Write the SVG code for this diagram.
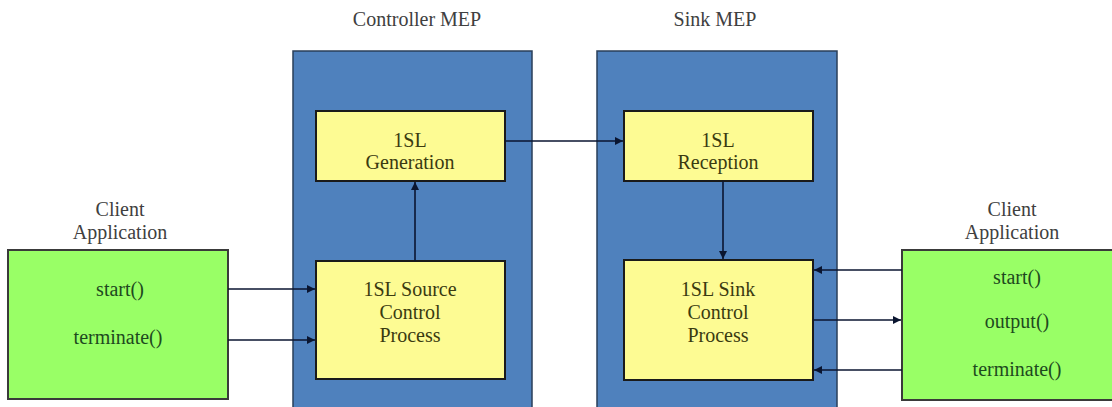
<svg xmlns="http://www.w3.org/2000/svg" width="1112" height="407" viewBox="0 0 1112 407">
<style>
text{font-family:"Liberation Serif","Times New Roman",serif;font-size:20px;text-anchor:middle}
.title{fill:#404040}
.mep{fill:#4f81bd;stroke:#2a3f5a;stroke-width:1.5}
.box{fill:#fdfb93;stroke:#1a1a1a;stroke-width:2}
.client{fill:#99ff66;stroke:#3a3a3a;stroke-width:2}
.yt{fill:#3a3a10}
.gt{fill:#1e4a1e}
.conn{stroke:#0a1530;stroke-width:1.6;fill:none;marker-end:url(#ah)}
</style>
<defs>
<marker id="ah" viewBox="0 0 10 10" refX="10" refY="5" markerWidth="8" markerHeight="8" markerUnits="userSpaceOnUse" orient="auto">
<path d="M0,0 L10,5 L0,10 z" fill="#0a1530"/>
</marker>
</defs>
<rect width="1112" height="407" fill="#ffffff"/>
<g id="controller-mep">
<text class="title" x="417" y="26">Controller MEP</text>
<rect class="mep" x="293" y="51" width="239" height="362"/>
</g>
<g id="sink-mep">
<text class="title" x="715" y="26">Sink MEP</text>
<rect class="mep" x="597" y="51" width="240" height="362"/>
</g>
<g id="generation">
<rect class="box" x="316" y="111" width="189" height="70"/>
<text class="yt" x="410" y="147">1SL</text>
<text class="yt" x="410" y="169">Generation</text>
</g>
<g id="source-control">
<rect class="box" x="316" y="261" width="189" height="118"/>
<text class="yt" x="410" y="296">1SL Source</text>
<text class="yt" x="410" y="319">Control</text>
<text class="yt" x="410" y="342">Process</text>
</g>
<g id="reception">
<rect class="box" x="624" y="111" width="189" height="70"/>
<text class="yt" x="718" y="147">1SL</text>
<text class="yt" x="718" y="169">Reception</text>
</g>
<g id="sink-control">
<rect class="box" x="624" y="260" width="189" height="120"/>
<text class="yt" x="718" y="296">1SL Sink</text>
<text class="yt" x="718" y="319">Control</text>
<text class="yt" x="718" y="342">Process</text>
</g>
<g id="client-left">
<text class="title" x="120" y="216">Client</text>
<text class="title" x="120" y="239">Application</text>
<rect class="client" x="8" y="250" width="220" height="149"/>
<text class="gt" x="120" y="296">start()</text>
<text class="gt" x="118" y="344">terminate()</text>
</g>
<g id="client-right">
<text class="title" x="1012" y="216">Client</text>
<text class="title" x="1012" y="239">Application</text>
<rect class="client" x="902" y="250" width="230" height="150"/>
<text class="gt" x="1017" y="284">start()</text>
<text class="gt" x="1017" y="328">output()</text>
<text class="gt" x="1017" y="376">terminate()</text>
</g>
<g id="connectors">
<line class="conn" x1="505" y1="141" x2="623" y2="141"/>
<line class="conn" x1="415" y1="261" x2="415" y2="182"/>
<line class="conn" x1="723" y1="181" x2="723" y2="259"/>
<line class="conn" x1="228" y1="289" x2="315" y2="289"/>
<line class="conn" x1="228" y1="340" x2="315" y2="340"/>
<line class="conn" x1="902" y1="270" x2="814" y2="270"/>
<line class="conn" x1="813" y1="320" x2="901" y2="320"/>
<line class="conn" x1="902" y1="370" x2="814" y2="370"/>
</g>
</svg>
